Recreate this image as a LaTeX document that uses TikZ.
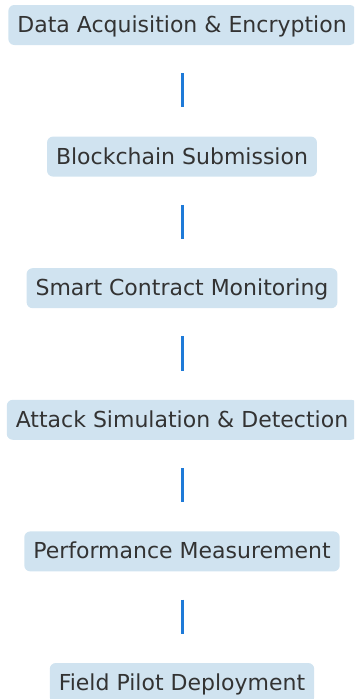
\documentclass[tikz,border=0pt]{standalone}
\usepackage{fontspec}
\setmainfont{DejaVu Sans}
\definecolor{boxfill}{HTML}{D0E3F0}
\definecolor{txt}{HTML}{333333}
\definecolor{link}{HTML}{1E7AD8}
\begin{document}
\begin{tikzpicture}[x=1pt,y=1pt,
  stage/.style={rectangle, rounded corners=6pt, fill=boxfill, text=txt,
    font=\fontsize{22}{26}\selectfont, inner xsep=9pt, inner ysep=0pt,
    minimum height=40pt, text height=18pt, text depth=3pt, anchor=center},
  linkline/.style={draw=link, line width=3pt}]
\useasboundingbox (0,0) rectangle (354,-699);
\clip (0,0) rectangle (354,-699);
\node[stage] (s1) at (182,-25) {Data Acquisition \& Encryption};
\node[stage] (s2) at (182,-156.6) {Blockchain Submission};
\node[stage] (s3) at (182,-288.2) {Smart Contract Monitoring};
\node[stage] (s4) at (182,-419.8) {Attack Simulation \& Detection};
\node[stage] (s5) at (182,-551.4) {Performance Measurement};
\node[stage] (s6) at (182,-683) {Field Pilot Deployment};
\foreach \a/\b in {s1/s2,s2/s3,s3/s4,s4/s5,s5/s6}{
  \draw[linkline] ([yshift=-28pt]\a.south) -- ([yshift=29pt]\b.north);
}
\end{tikzpicture}
\end{document}
